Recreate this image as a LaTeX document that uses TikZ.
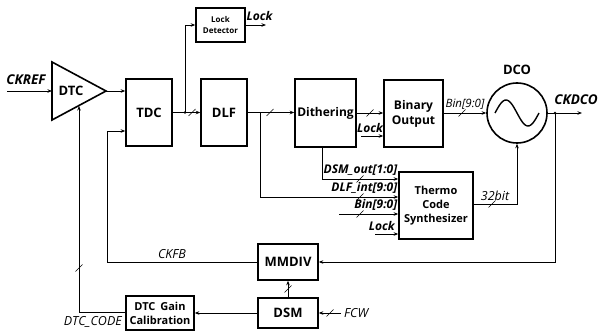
\documentclass[tikz,border=0pt]{standalone}
\usepackage{fontspec}
\setmainfont{Open Sans}
\usetikzlibrary{arrows.meta}
\tikzset{
  blk/.style={draw, line width=1.6pt, inner sep=0pt, align=center, font=\bfseries\fontsize{13}{15}\selectfont},
  sblk/.style={blk, font=\bfseries\fontsize{11}{14}\selectfont},
  wire/.style={line width=0.9pt},
  arr/.style={wire, -{Stealth[length=4.5pt,width=3.5pt]}},
  lbl/.style={inner sep=0pt, font=\bfseries\itshape\fontsize{12}{14}\selectfont},
  tlbl/.style={inner sep=0pt, font=\itshape\fontsize{12.5}{14}\selectfont},
  dot/.style={circle, fill, inner sep=0pt, minimum size=2.6pt},
}
\newcommand{\busmark}[1]{\draw[line width=0.5pt] (#1) ++(-3.5,3.5) -- ++(7,-7);}
\begin{document}
\begin{tikzpicture}[x=1pt,y=-1pt]
\useasboundingbox (0,0) rectangle (599,331);
% DTC triangle
\draw[line width=1.6pt] (52,62) -- (106,91) -- (52,120) -- cycle;
\coordinate (dtctip) at (106,91);
\coordinate (dtcbot) at (79,106);
\node[inner sep=0pt, font=\bfseries\fontsize{13}{15}\selectfont] (dtc) at (71,91) {DTC};
% blocks
\node[blk, minimum width=46, minimum height=67] (tdc) at (149,112.5) {TDC};
\node[blk, minimum width=46, minimum height=67] (dlf) at (224,112.5) {DLF};
\node[blk, minimum width=61, minimum height=68, font=\bfseries\fontsize{12}{14}\selectfont] (dith) at (325.5,113) {Dithering};
\node[blk, minimum width=59, minimum height=67, font=\bfseries\fontsize{12}{15}\selectfont] (bin) at (413.5,113.5) {Binary\\Output};
\node[blk, minimum width=49, minimum height=34, font=\bfseries\fontsize{8}{11}\selectfont] (ld) at (220.5,25) {Lock\\Detector};
\node[sblk, minimum width=74, minimum height=67] (thermo) at (436,205.5) {Thermo\\Code\\Synthesizer};
\node[blk, minimum width=60, minimum height=36] (mmdiv) at (288,262) {MMDIV};
\node[blk, minimum width=60, minimum height=30] (dsm) at (288,313) {DSM};
\node[sblk, minimum width=68, minimum height=34] (cal) at (160,313) {DTC\;\,Gain\\Calibration};
% DCO
\node[draw, circle, line width=1.6pt, minimum size=60, inner sep=0pt] (dco) at (517,113) {};
\draw[line width=1.4pt] plot[domain=0:1, samples=40, smooth] ({495+44*\x},{113-13*sin(360*\x)});
\node[inner sep=0pt, font=\bfseries\fontsize{13}{15}\selectfont] (dcolbl) at (517,70) {DCO};
% CKREF
\coordinate (ckin) at (7,91);
\draw[arr] (ckin) -- (52,91);
\node[lbl, font=\bfseries\itshape\fontsize{13.5}{15}\selectfont] (ckref) at (26,80) {CKREF};
% DTC -> TDC
\draw[arr] (dtctip) -- (tdc.west |- dtctip);
% TDC -> DLF
\draw[arr] (tdc.east) -- (dlf.west);
\node[dot] (j1) at (185,112.5) {};
\busmark{192,112.5}
\draw[arr] (j1.center) |- (ld.west);
\coordinate (lockout) at (266,25);
\draw[arr] (ld.east) -- (lockout);
\node[lbl] (locklbl) at (259.5,16) {Lock};
% DLF -> Dithering
\draw[arr] (dlf.east) -- (dith.west |- dlf.east);
\busmark{270,112.5}
\coordinate (j2) at (260,112.5);
\draw[arr] (j2) |- (thermo.west |- 0,197);
% Dithering -> Binary
\draw[arr] (dith.east |- 0,113) -- (bin.west |- 0,113);
\busmark{370,113}
\coordinate (lk1) at (361,136);
\draw[arr] (lk1) -- (bin.west |- lk1);
\node[lbl] (lk1lbl) at (370,128) {Lock};
% Binary -> DCO
\draw[arr] (bin.east |- 0,113) -- (dco.west);
\busmark{462,113}
\node[tlbl, font=\itshape\fontsize{11.5}{13}\selectfont] (binlbl) at (465,104) {Bin[9:0]};
% DCO output
\coordinate (ckout) at (582,113);
\draw[arr] (dco.east) -- (ckout);
\node[dot] (j3) at (555,113) {};
\node[lbl, font=\bfseries\itshape\fontsize{13.5}{15}\selectfont, anchor=east] (ckdco) at (598,100) {CKDCO};
\draw[arr] (j3.center) |- (mmdiv.east);
% Dithering -> Thermo
\draw[arr] (dith.south -| 322,0) |- (thermo.west |- 0,179);
\busmark{360,179}
\node[lbl, anchor=south east] (dsmout) at (397.5,176) {DSM\_out[1:0]};
\busmark{360,197}
\node[lbl, anchor=south east] (dlfint) at (397.5,194) {DLF\_int[9:0]};
\coordinate (bin2) at (339,214);
\draw[arr] (bin2) -- (thermo.west |- bin2);
\busmark{360,214}
\node[lbl, anchor=south east] (binlbl2) at (397.5,211) {Bin[9:0]};
\coordinate (lk2) at (375,234);
\draw[arr] (lk2) -- (thermo.west |- lk2);
\node[lbl, anchor=south east] (lk2lbl) at (395,231) {Lock};
% Thermo -> DCO
\draw[arr] (thermo.east |- 0,204) -| (dco.south);
\busmark{492,204}
\node[tlbl] (bitlbl) at (495,196) {32bit};
% MMDIV -> TDC
\draw[arr] (mmdiv.west) -- (107,262) |- (tdc.west |- 0,131);
\node[tlbl] (ckfb) at (172,254) {CKFB};
% DSM -> MMDIV
\draw[arr] (dsm.north) -- (mmdiv.south);
\busmark{288,289}
% DSM -> Cal
\draw[arr] (dsm.west) -- (cal.east);
% Cal -> DTC
\draw[arr] (cal.west |- 0,312) -- (79,312) -- (dtcbot);
\busmark{79,268}
\node[tlbl, anchor=east] (dtccode) at (122,322) {DTC\_CODE};
% FCW
\coordinate (fcw) at (341,313);
\draw[arr] (fcw) -- (dsm.east);
\busmark{330,313}
\node[tlbl, anchor=west] (fcwlbl) at (344,313) {FCW};
\end{tikzpicture}
\end{document}
